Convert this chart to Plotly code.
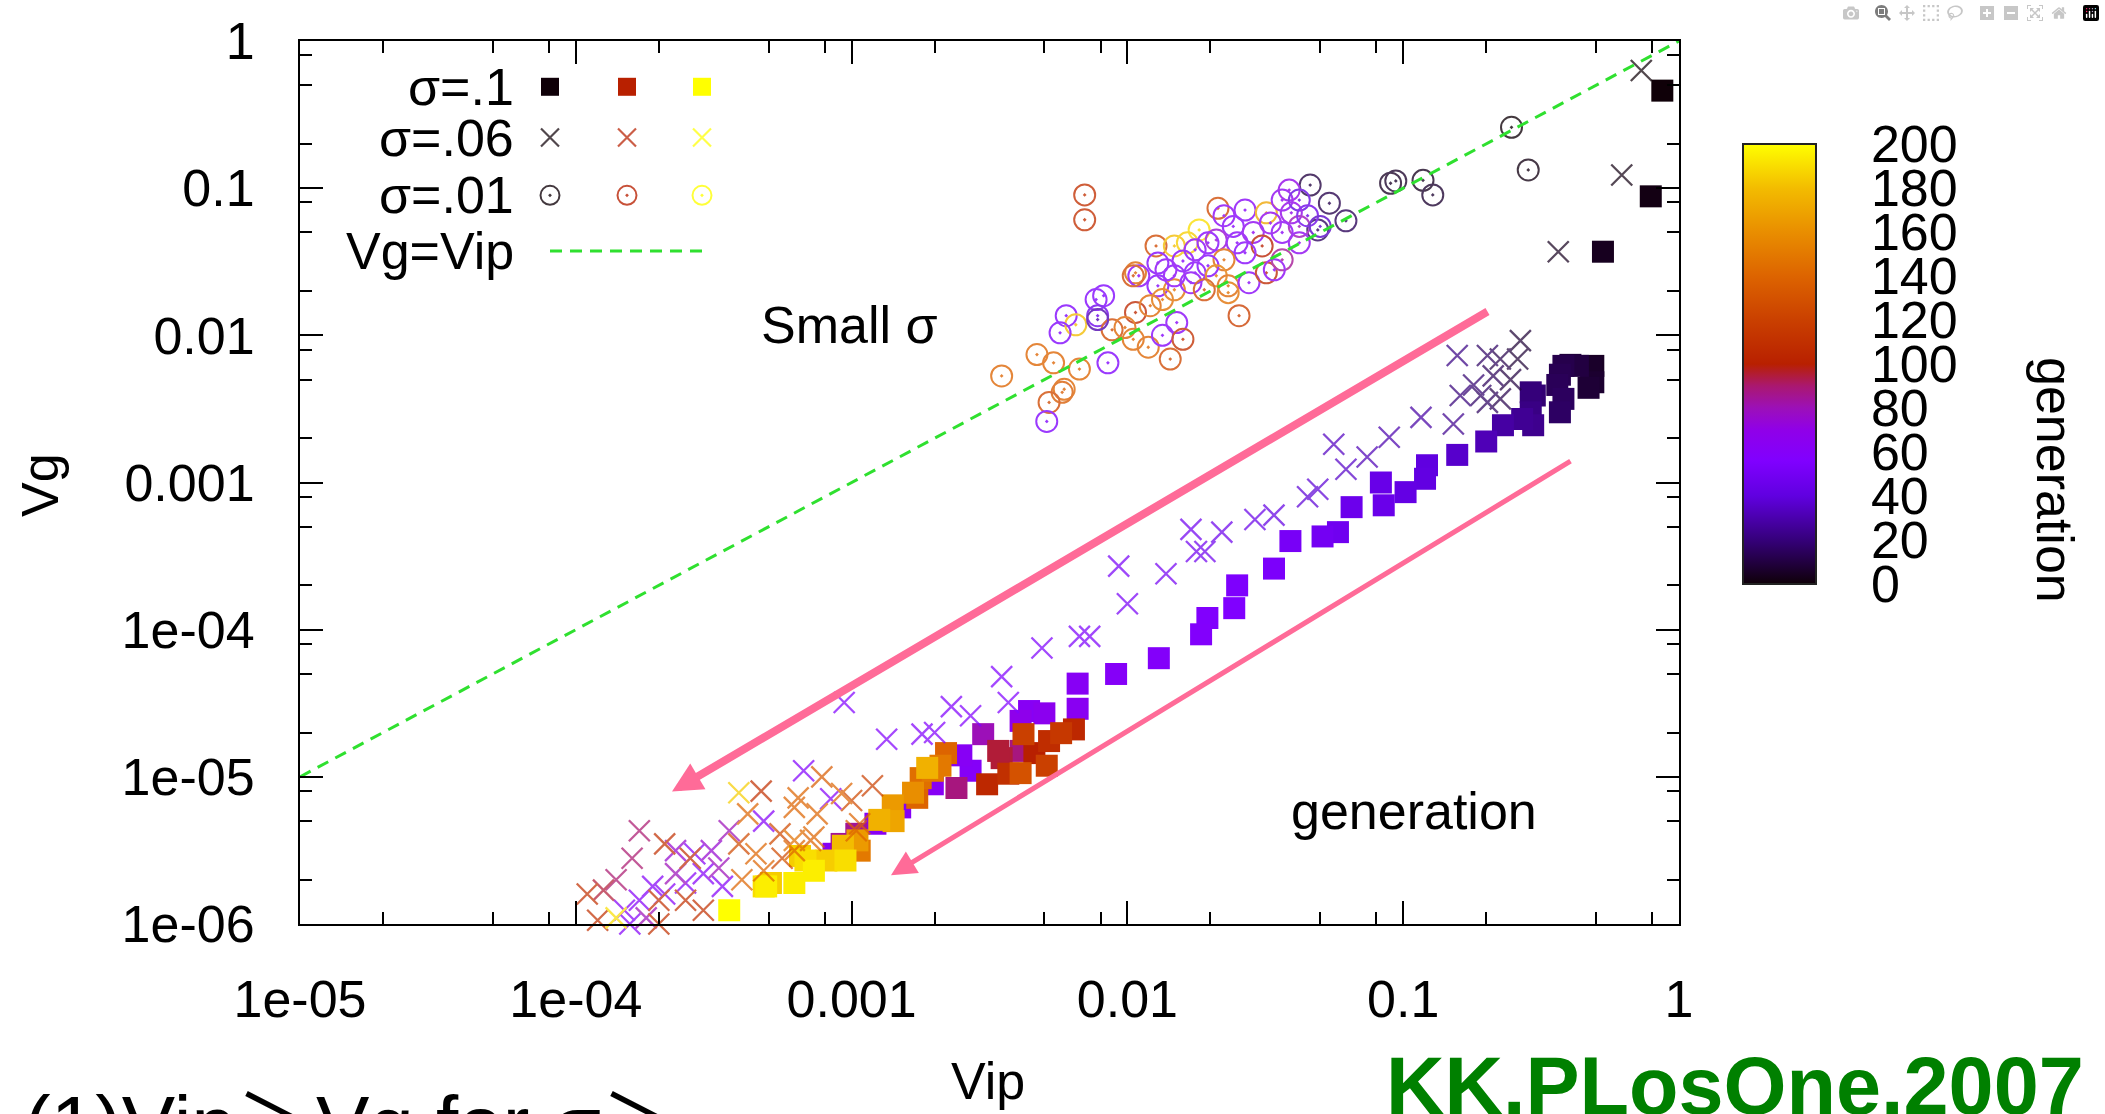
import plotly.graph_objects as go

# ---------------- data ----------------
# sigma = 0.1  (filled squares)
sq_vip = [0.87, 0.79, 0.53, 0.48, 0.47, 0.43, 0.37, 0.37, 0.30, 0.29, 0.27, 0.23, 0.20, 0.157,
          0.122, 0.12, 0.102, 0.083, 0.085, 0.065, 0.058, 0.051, 0.039, 0.034, 0.025, 0.0244,
          0.0195, 0.0185, 0.013, 0.0091, 0.0066, 0.0066, 0.0050, 0.0044, 0.0041, 0.0030, 0.0025,
          0.0064, 0.0052, 0.0042, 0.0041, 0.0035, 0.0037, 0.0031, 0.0027, 0.0024, 0.00197,
          0.00188, 0.00197, 0.00178, 0.00173, 0.0015, 0.00142, 0.00122, 0.00104, 0.00107,
          0.00092, 0.00086, 0.00095, 0.00073, 0.00062, 0.00048, 0.00036, 0.00065, 0.00051, 0.0034,
          0.381, 0.404, 0.489, 0.489, 0.381, 0.362, 0.296, 0.29,
          0.00068, 0.00081, 0.00093, 0.00126, 0.00141, 0.00167, 0.0021, 0.0022, 0.00049, 0.00105,
          0.00575, 0.0046, 0.0051, 0.0041]
sq_vg = [0.46, 0.088, 0.037, 0.0060, 0.0044, 0.0062, 0.0054, 0.0030, 0.0039, 0.0030, 0.0027,
         0.00245, 0.0019, 0.00154, 0.00131, 0.00106, 0.00086, 0.0010, 0.0007, 0.00068, 0.00046,
         0.00043, 0.0004, 0.00026, 0.0002, 0.00014, 0.00012, 9.3e-5, 6.4e-5, 5.0e-5, 4.3e-5,
         2.9e-5, 2.7e-5, 2.8e-5, 2.4e-5, 1.95e-5, 1.4e-5, 2.1e-5, 1.75e-5, 1.95e-5, 1.5e-5,
         1.34e-5, 1.05e-5, 8.9e-6, 1.1e-5, 8.4e-6, 1.1e-5, 1.15e-5, 8.9e-6, 9.8e-6, 7.2e-6,
         6.2e-6, 5.0e-6, 4.8e-6, 4.1e-6, 3.15e-6, 3.5e-6, 3.0e-6, 2.7e-6, 2.3e-6, 1.9e-6,
         1.8e-6, 1.24e-6, 2.9e-6, 1.9e-6, 1.5e-5,
         0.0062, 0.0063, 0.0062, 0.0048, 0.0037, 0.0046, 0.00245, 0.0041,
         2.7e-6, 2.7e-6, 3.4e-6, 5.1e-6, 6.4e-6, 7.8e-6, 1.19e-5, 1.45e-5, 1.8e-6, 3.7e-6,
         1.98e-5, 1.45e-5, 1.19e-5, 1.06e-5]
sq_gen = [0, 2, 4, 6, 8, 10, 13, 16, 19, 22, 25, 28, 32, 36, 40, 41, 42, 44, 45, 46, 48, 50,
          52, 54, 55, 56, 57, 58, 59, 60, 62, 64, 66, 62, 68, 80, 62, 105, 108, 120, 88, 95,
          110, 105, 60, 88, 150, 175, 62, 145, 140, 60, 170, 62, 85, 150, 85, 62, 190, 195,
          195, 190, 200, 185, 185, 95,
          12, 9, 5, 7, 15, 14, 24, 20,
          190, 185, 180, 175, 165, 160, 150, 140, 195, 165,
          115, 100, 120, 130]

# sigma = 0.06  (crosses)
cr_vip = [0.73, 0.62, 0.365, 0.266, 0.26, 0.245, 0.225, 0.202, 0.157, 0.225, 0.212, 0.202,
          0.18, 0.161, 0.191, 0.116, 0.152, 0.089, 0.074, 0.056, 0.062, 0.049, 0.045, 0.034,
          0.029, 0.022, 0.017, 0.0178, 0.0191, 0.0138, 0.0093, 0.010, 0.0067, 0.0073, 0.0049,
          0.0035, 0.0037, 0.0027, 0.0023, 0.0020, 0.0018, 0.00134, 0.00094, 0.00067, 0.00039,
          0.00047, 0.00078, 0.00119, 0.00092, 0.00064, 0.00062, 0.00084, 0.0010, 0.00107,
          0.00104, 0.00075, 0.00073, 0.00062, 0.00055, 0.00048, 0.00042, 0.00036, 0.00039,
          0.00045, 0.00056, 0.00062, 0.00071, 0.00048, 0.00040, 0.00034, 0.00033, 0.00027,
          0.00029, 0.00025, 0.00023, 0.00021, 0.00019, 0.00017, 0.00018, 0.00015, 0.000157,
          0.00014, 0.00012, 0.00011, 0.000126, 0.00014, 0.00016, 0.00017, 0.00021, 0.00023,
          0.00031, 0.00026, 0.00020, 0.00025, 0.00029, 0.00020]
cr_vg = [0.63, 0.123, 0.037, 0.0092, 0.0069, 0.0050, 0.0069, 0.0073, 0.0073, 0.0037, 0.0053,
         0.0035, 0.0046, 0.0039, 0.0039, 0.00277, 0.0025, 0.00203, 0.00149, 0.00182, 0.00123,
         0.0009, 0.0008, 0.0006, 0.00056, 0.00046, 0.00048, 0.00034, 0.00034, 0.00024, 0.00027,
         0.00015, 9.0e-5, 9.0e-5, 7.5e-5, 4.8e-5, 3.2e-5, 2.6e-5, 3.0e-5, 2.0e-5, 1.95e-5,
         1.8e-5, 3.2e-5, 1.1e-5, 7.8e-6, 8.0e-6, 1.0e-5, 8.7e-6, 7.7e-6, 7.2e-6, 6.2e-6,
         7.1e-6, 6.9e-6, 4.8e-6, 4.3e-6, 5.6e-6, 3.9e-6, 3.7e-6, 4.1e-6, 5.0e-6, 5.6e-6,
         4.3e-6, 3.5e-6, 3.0e-6, 2.8e-6, 3.15e-6, 3.7e-6, 2.3e-6, 2.0e-6, 1.8e-6, 2.4e-6,
         3.0e-6, 2.2e-6, 1.9e-6, 2.2e-6, 1.6e-6, 1.8e-6, 1.45e-6, 1.1e-6, 1.24e-6, 1.0e-6,
         1.1e-6, 1.06e-6, 1.6e-6, 1.7e-6, 2.0e-6, 2.8e-6, 4.3e-6, 3.5e-6, 3.15e-6, 3.15e-6,
         2.8e-6, 1.45e-6, 1.45e-6, 1.24e-6, 1.0e-6]
cr_gen = [0, 2, 4, 8, 8, 10, 12, 16, 22, 12, 14, 15, 18, 20, 16, 28, 24, 30, 32, 34, 35, 38,
          38, 42, 44, 46, 48, 48, 47, 50, 52, 52, 54, 54, 55, 56, 56, 57, 57, 58, 58, 58, 56,
          58, 185, 110, 135, 120, 140, 140, 140, 60, 125, 140, 140, 140, 140, 145, 125, 60,
          140, 80, 125, 140, 125, 140, 140, 140, 140, 60, 80, 60, 60, 60, 80, 60, 60, 60, 80,
          60, 60, 190, 110, 110, 95, 90, 90, 90, 110, 75, 75, 110, 110, 110, 110, 110]

# sigma = 0.01  (circles with dot)
ci_vip = [0.247, 0.284, 0.090, 0.094, 0.118, 0.128, 0.046, 0.054, 0.062, 0.049, 0.0070,
          0.0070, 0.0213, 0.0127, 0.0182, 0.0148, 0.0165, 0.0107, 0.011, 0.0129, 0.0159,
          0.0129, 0.0148, 0.0224, 0.0267, 0.0242, 0.021, 0.025, 0.0286, 0.0319, 0.033, 0.0364,
          0.0386, 0.042, 0.0393, 0.042, 0.045, 0.0364, 0.0308, 0.0267, 0.0224, 0.0196, 0.0176,
          0.021, 0.0232, 0.0276, 0.0254, 0.0319, 0.0364, 0.042, 0.050, 0.0341, 0.0077, 0.0082,
          0.0060, 0.0078, 0.0065, 0.0057, 0.0088, 0.0107, 0.0121, 0.0134, 0.0098, 0.0105,
          0.0119, 0.0134, 0.0151, 0.0159, 0.0143, 0.0085, 0.0067, 0.0054, 0.0059, 0.0148,
          0.0138, 0.0176, 0.0196, 0.017, 0.019, 0.0232, 0.0035, 0.0047, 0.0058, 0.0052, 0.0051,
          0.0078, 0.0105]
ci_vg = [0.259, 0.133, 0.108, 0.112, 0.113, 0.090, 0.105, 0.079, 0.060, 0.052, 0.090, 0.061,
         0.073, 0.0405, 0.052, 0.0405, 0.0425, 0.0266, 0.0254, 0.031, 0.032, 0.0217, 0.0204,
         0.065, 0.071, 0.055, 0.0445, 0.0425, 0.050, 0.068, 0.058, 0.083, 0.097, 0.083, 0.068,
         0.055, 0.065, 0.050, 0.0405, 0.0364, 0.0326, 0.0297, 0.0266, 0.0254, 0.0217, 0.0228,
         0.0136, 0.0266, 0.0326, 0.0425, 0.055, 0.0279, 0.0175, 0.0186, 0.0136, 0.0136,
         0.0118, 0.0104, 0.0109, 0.0143, 0.0159, 0.0175, 0.0113, 0.0094, 0.0083, 0.0100,
         0.0122, 0.0094, 0.0069, 0.0065, 0.0059, 0.0065, 0.0043, 0.0254, 0.0279, 0.0381,
         0.0425, 0.0228, 0.0204, 0.0195, 0.0053, 0.0074, 0.0041, 0.0035, 0.0026, 0.0128,
         0.0254]
ci_gen = [0, 2, 5, 6, 4, 7, 10, 12, 14, 15, 110, 110, 125, 125, 190, 180, 185, 140, 60, 55,
          58, 55, 145, 62, 60, 58, 75, 60, 65, 170, 68, 65, 70, 40, 70, 80, 45, 62, 100, 58,
          140, 55, 58, 150, 140, 60, 120, 105, 85, 65, 35, 62, 55, 55, 55, 45, 180, 55, 125,
          105, 140, 145, 140, 140, 140, 58, 60, 110, 125, 55, 140, 140, 140, 60, 62, 60, 58,
          62, 125, 145, 140, 140, 135, 125, 55, 30, 125]

# Vg = Vip reference line
line_vip = [1e-5, 1.0]
line_vg = [1e-5, 1.0]

# axis ticks
x_tickvals = [1e-5, 1e-4, 1e-3, 1e-2, 1e-1, 1.0]
x_ticktext = ["1e-05", "1e-04", "0.001", "0.01", "0.1", "1"]
y_tickvals = [1e-6, 1e-5, 1e-4, 1e-3, 1e-2, 1e-1, 1.0]
y_ticktext = ["1e-06", "1e-05", "1e-04", "0.001", "0.01", "0.1", "1"]
minor_mults = [2, 5, 8]
cb_ticks = [0, 20, 40, 60, 80, 100, 120, 140, 160, 180, 200]

legend_labels = ["σ=.1", "σ=.06", "σ=.01", "Vg=Vip"]
legend_gens = [0, 100, 200]

# ---------------- style ----------------
FONT = "Liberation Sans, Arial, Helvetica, sans-serif"
CJK = "<span style='font-family:Noto Sans CJK JP'>＞</span>"
CSCALE = [[0.0, "#0f0008"], [0.1, "#35007a"], [0.2, "#6000e0"], [0.28, "#8000ff"],
          [0.35, "#9000e8"], [0.4, "#9c10b8"], [0.45, "#aa1870"], [0.5, "#b82000"],
          [0.6, "#ca4000"], [0.7, "#dd6400"], [0.8, "#e98e00"], [0.9, "#f3bc00"],
          [1.0, "#ffff00"]]
PINK = "#ff6b98"
GREEN = "#2fe02f"

W, H = 2105, 1114
ML, MR, MT, MB = 300, 426, 37, 190
PW, PH = W - ML - MR, H - MT - MB


def px_x(px):
    return (px - ML) / PW


def px_y(py):
    return (H - MB - py) / PH


x_minor = [m * 10.0 ** e for e in range(-5, 0) for m in minor_mults]
y_minor = [m * 10.0 ** e for e in range(-6, 0) for m in minor_mults]

fig = go.Figure()


def order(vals, gens):
    idx = sorted(range(len(gens)), key=lambda i: gens[i])
    return [vals[i] for i in idx]


# squares
fig.add_trace(go.Scatter(
    x=order(sq_vip, sq_gen), y=order(sq_vg, sq_gen), mode="markers",
    marker=dict(symbol="square", size=22, color=order(sq_gen, sq_gen),
                coloraxis="coloraxis", line=dict(width=0)),
    showlegend=False, cliponaxis=False))
# crosses
fig.add_trace(go.Scatter(
    x=order(cr_vip, cr_gen), y=order(cr_vg, cr_gen), mode="markers", opacity=0.72,
    marker=dict(symbol="x-thin-open", size=21, color=order(cr_gen, cr_gen),
                coloraxis="coloraxis", line=dict(width=2.3)),
    showlegend=False, cliponaxis=False))
# circles
fig.add_trace(go.Scatter(
    x=ci_vip, y=ci_vg, mode="markers", opacity=0.78,
    marker=dict(symbol="circle-open-dot", size=21, color=ci_gen,
                coloraxis="coloraxis", line=dict(width=2)),
    showlegend=False, cliponaxis=False))
# Vg = Vip
fig.add_trace(go.Scatter(
    x=line_vip, y=line_vg, mode="lines",
    line=dict(color=GREEN, width=3, dash="12px,8px"), showlegend=False))

# ---- gnuplot-style key (overlay axes 0..1) ----
key_x = [px_x(550), px_x(627), px_x(702)]
key_y = [px_y(83), px_y(134), px_y(192), px_y(248)]
key_syms = [("square", 18, 0, 1.0), ("x-thin-open", 18, 2.2, 0.72), ("circle-open-dot", 19, 2, 0.78)]
for row, (sym, size, lw, op) in enumerate(key_syms):
    fig.add_trace(go.Scatter(
        x=key_x, y=[key_y[row]] * 3, xaxis="x2", yaxis="y2", mode="markers", opacity=op,
        marker=dict(symbol=sym, size=size, color=legend_gens, coloraxis="coloraxis",
                    line=dict(width=lw)),
        showlegend=False, hoverinfo="skip"))
fig.add_trace(go.Scatter(
    x=[px_x(550), px_x(703)], y=[key_y[3]] * 2, xaxis="x2", yaxis="y2", mode="lines",
    line=dict(color=GREEN, width=3, dash="12px,8px"), showlegend=False, hoverinfo="skip"))

annotations = []
for lab, yy in zip(legend_labels, key_y):
    annotations.append(dict(text=lab, x=px_x(516), y=yy, xref="paper", yref="paper",
                            xanchor="right", yanchor="middle", showarrow=False,
                            font=dict(size=52, color="black", family=FONT)))


def label(text, cx, cy, size=52, angle=0, **kw):
    d = dict(text=text, x=px_x(cx), y=px_y(cy), xref="paper", yref="paper",
             xanchor="center", yanchor="middle", textangle=angle, showarrow=False,
             font=dict(size=size, family=FONT, color="black"))
    d.update(kw)
    return d


# text labels
annotations += [
    label("Small σ", 849, 322),
    label("generation", 1414, 810),
    label("Vg", 40, 483, angle=-90),
    label("Vip", 988, 1082),
    label("generation", 2055, 478, angle=90),
    dict(text="(1)Vip" + CJK + "Vg for σ" + CJK, x=px_x(22), y=px_y(1058), xref="paper",
         yref="paper", xanchor="left", yanchor="top", showarrow=False,
         font=dict(size=80, family=FONT, color="black")),
    dict(text="<b>KK.PLosOne.2007</b>", x=px_x(1384), y=px_y(1040), xref="paper",
         yref="paper", xanchor="left", yanchor="top", showarrow=False,
         font=dict(size=81, family=FONT, color="#008000")),
    # arrows
    dict(x=px_x(672), y=px_y(791), xref="paper", yref="paper", text="", showarrow=True,
         ax=1489 - 672, ay=310 - 791, arrowhead=2, arrowsize=0.75, arrowwidth=8,
         arrowcolor=PINK, standoff=0),
    dict(x=px_x(891), y=px_y(875), xref="paper", yref="paper", text="", showarrow=True,
         ax=1572 - 891, ay=460 - 875, arrowhead=2, arrowsize=1.0, arrowwidth=5,
         arrowcolor=PINK, standoff=0),
]

# colorbar geometry (pixels)
CB_L, CB_R, CB_T, CB_B = 1743, 1816, 141, 581
shapes = []
for t in cb_ticks[1:-1]:
    yy = px_y(CB_B) + (t - cb_ticks[0]) / (cb_ticks[-1] - cb_ticks[0]) * (px_y(CB_T) - px_y(CB_B))
    shapes.append(dict(type="line", xref="paper", yref="paper", x0=px_x(CB_L),
                       x1=px_x(CB_L + 17), y0=yy, y1=yy, line=dict(color="black", width=2.5)))
    shapes.append(dict(type="line", xref="paper", yref="paper", x0=px_x(CB_R - 17),
                       x1=px_x(CB_R), y0=yy, y1=yy, line=dict(color="black", width=2.5)))

axis_common = dict(type="log", showgrid=False, zeroline=False, showline=True,
                   linecolor="black", linewidth=2, mirror="allticks", ticks="inside",
                   ticklen=23, tickwidth=2, tickcolor="black",
                   tickfont=dict(size=52, family=FONT, color="black"))

fig.update_layout(
    width=W, height=H, margin=dict(l=ML, r=MR, t=MT, b=MB, pad=0),
    paper_bgcolor="white", plot_bgcolor="white", showlegend=False,
    font=dict(family=FONT, color="black"),
    xaxis=dict(range=[-5, 0], tickmode="array", tickvals=x_tickvals, ticktext=x_ticktext,
               ticklabelstandoff=29,
               minor=dict(tickmode="array", tickvals=x_minor, ticks="inside", ticklen=12,
                          tickwidth=2, tickcolor="black", showgrid=False),
               **axis_common),
    yaxis=dict(range=[-6, 0], tickmode="array", tickvals=y_tickvals, ticktext=y_ticktext,
               ticklabelstandoff=33,
               minor=dict(tickmode="array", tickvals=y_minor, ticks="inside", ticklen=12,
                          tickwidth=2, tickcolor="black", showgrid=False),
               **axis_common),
    xaxis2=dict(overlaying="x", anchor="y2", range=[0, 1], visible=False),
    yaxis2=dict(overlaying="y", anchor="x2", range=[0, 1], visible=False),
    coloraxis=dict(cmin=cb_ticks[0], cmax=cb_ticks[-1], colorscale=CSCALE,
                   colorbar=dict(x=px_x(CB_L), xanchor="left", xpad=0, ypad=0,
                                 y=px_y((CB_T + CB_B) / 2), yanchor="middle",
                                 thickness=CB_R - CB_L, thicknessmode="pixels",
                                 len=CB_B - CB_T, lenmode="pixels",
                                 outlinewidth=2, outlinecolor="#222",
                                 tickmode="array", tickvals=cb_ticks,
                                 ticktext=[str(t) for t in cb_ticks],
                                 ticks="outside", ticklen=44, tickcolor="rgba(0,0,0,0)",
                                 tickfont=dict(size=52, family=FONT, color="black"))),
    annotations=annotations, shapes=shapes,
)

fig.write_html("out.html", post_script="document.body.style.margin='0';document.body.style.overflow='hidden';")
